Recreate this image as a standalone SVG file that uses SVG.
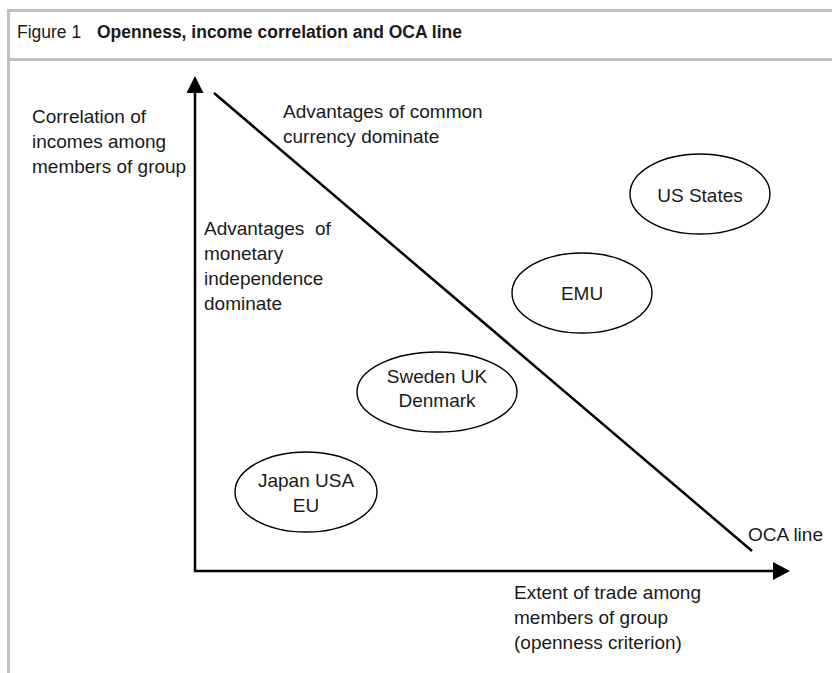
<svg xmlns="http://www.w3.org/2000/svg" width="832" height="673" viewBox="0 0 832 673">
<defs>
<style>
.frame{stroke:#c0c0c0;stroke-width:3;fill:none}
.axis{stroke:#000;stroke-width:2.5;fill:none}
.head{fill:#000}
.oval{fill:none;stroke:#000;stroke-width:1.4}
text{font-family:"Liberation Sans",Arial,sans-serif;font-size:19px;fill:#1a1a1a}
.title{font-size:17.5px}
.bold{font-weight:bold}
.c{text-anchor:middle}
</style>
</defs>
<rect width="832" height="673" fill="#fff"/>
<g id="frame">
<line class="frame" x1="8.5" y1="10" x2="8.5" y2="673"/>
<line class="frame" x1="7" y1="10.5" x2="832" y2="10.5"/>
<line class="frame" x1="7" y1="59.5" x2="832" y2="59.5"/>
<text class="title" x="17" y="38">Figure 1</text>
<text class="title bold" x="97" y="38">Openness, income correlation and OCA line</text>
</g>
<g id="connectors">
<line class="axis" x1="195" y1="572" x2="195" y2="90"/>
<polygon class="head" points="195,76 186.5,93 203.5,93"/>
<line class="axis" x1="194" y1="571" x2="775" y2="571"/>
<polygon class="head" points="790,571 773,562 773,580"/>
<line class="axis" x1="214" y1="93" x2="752" y2="551"/>
</g>
<g id="y-label">
<text x="32" y="123">Correlation of</text>
<text x="32" y="148">incomes among</text>
<text x="32" y="173">members of group</text>
</g>
<g id="x-label">
<text x="514" y="599">Extent of trade among</text>
<text x="514" y="624">members of group</text>
<text x="514" y="649">(openness criterion)</text>
</g>
<g id="oca-label"><text x="748" y="541">OCA line</text></g>
<g id="common-label">
<text x="283" y="118">Advantages of common</text>
<text x="283" y="143">currency dominate</text>
</g>
<g id="independence-label">
<text x="204" y="235" xml:space="preserve">Advantages  of</text>
<text x="204" y="260">monetary</text>
<text x="204" y="285">independence</text>
<text x="204" y="310">dominate</text>
</g>
<g id="us-states">
<ellipse class="oval" cx="700" cy="194" rx="70" ry="40"/>
<text class="c" x="700" y="202">US States</text>
</g>
<g id="emu">
<ellipse class="oval" cx="582" cy="293" rx="70" ry="40"/>
<text class="c" x="582" y="300">EMU</text>
</g>
<g id="sweden-uk-denmark">
<ellipse class="oval" cx="437" cy="392" rx="80" ry="40"/>
<text class="c" x="437" y="383">Sweden UK</text>
<text class="c" x="437" y="407">Denmark</text>
</g>
<g id="japan-usa-eu">
<ellipse class="oval" cx="306" cy="492" rx="71" ry="40"/>
<text class="c" x="306" y="487">Japan USA</text>
<text class="c" x="306" y="512">EU</text>
</g>
</svg>
